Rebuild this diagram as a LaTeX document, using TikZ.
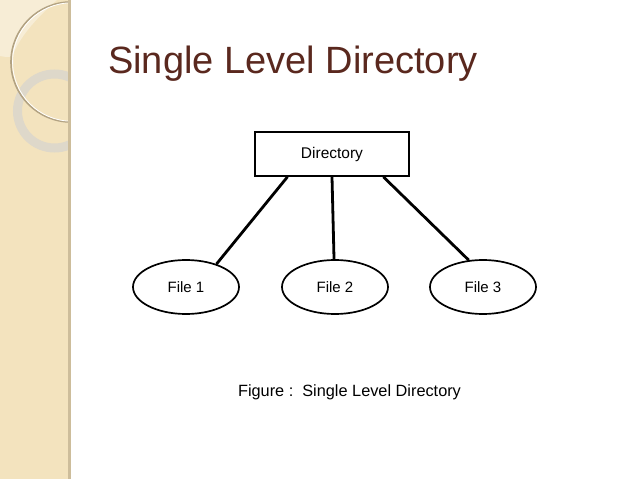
\documentclass[tikz,border=0pt]{standalone}
\usepackage{fontspec}
\setmainfont{Liberation Sans}
\usetikzlibrary{shapes.geometric,calc}
\definecolor{side}{RGB}{243,227,190}
\definecolor{sidelight}{RGB}{247,237,214}
\definecolor{strip}{RGB}{205,189,155}
\definecolor{ringc}{RGB}{222,216,202}
\definecolor{arcshadow}{RGB}{178,162,130}
\definecolor{titlec}{RGB}{90,40,30}
\tikzset{
  dirbox/.style={draw, line width=1.7pt, minimum width=154pt, minimum height=44pt, inner sep=0pt, font=\fontsize{15.5}{18}\selectfont},
  filenode/.style={ellipse, draw, line width=1.7pt, minimum width=106pt, minimum height=54pt, inner sep=0pt, font=\fontsize{15}{18}\selectfont},
  conn/.style={line width=2.8pt}
}
\begin{document}
\begin{tikzpicture}[x=1pt,y=-1pt]
\useasboundingbox (0,0) rectangle (638,479);
\fill[white] (0,0) rectangle (638,479);
% sidebar
\fill[side] (0,0) rectangle (69,479);
\fill[sidelight] (0,0) -- (57,0) .. controls (40,15) and (20,35) .. (12,57) .. controls (8,57) and (4,57) .. (0,56) -- cycle;
\begin{scope}
\clip (0,0) rectangle (68,479);
\draw[ringc, line width=9pt] (54.5,111) circle[radius=37];
\draw[arcshadow, line width=1.6pt] (71,62) circle[radius=60];
\draw[white, line width=0.8pt] (71.8,62) circle[radius=59.2];
\end{scope}
\fill[strip] (68,0) rectangle (71,479);
% title
\node[anchor=base west, font=\fontsize{38}{42}\selectfont, text=titlec, inner sep=0pt] (title) at (108,73) {Single Level Directory};
% diagram
\node[dirbox] (dir) at (332,154) {Directory};
\node[filenode] (f1) at (186,287) {File 1};
\node[filenode] (f2) at (335,287) {File 2};
\node[filenode] (f3) at (483,287) {File 3};
\draw[conn] ($(dir.south west)!0.214!(dir.south east)$) -- (f1.37);
\draw[conn] ($(dir.south west)!0.5!(dir.south east)$) -- (f2.92);
\draw[conn] ($(dir.south west)!0.83!(dir.south east)$) -- (f3.118);
\node[font=\fontsize{16.3}{19}\selectfont, inner sep=0pt] (cap) at (349.5,392) {Figure :\ \ Single Level Directory};
\end{tikzpicture}
\end{document}
